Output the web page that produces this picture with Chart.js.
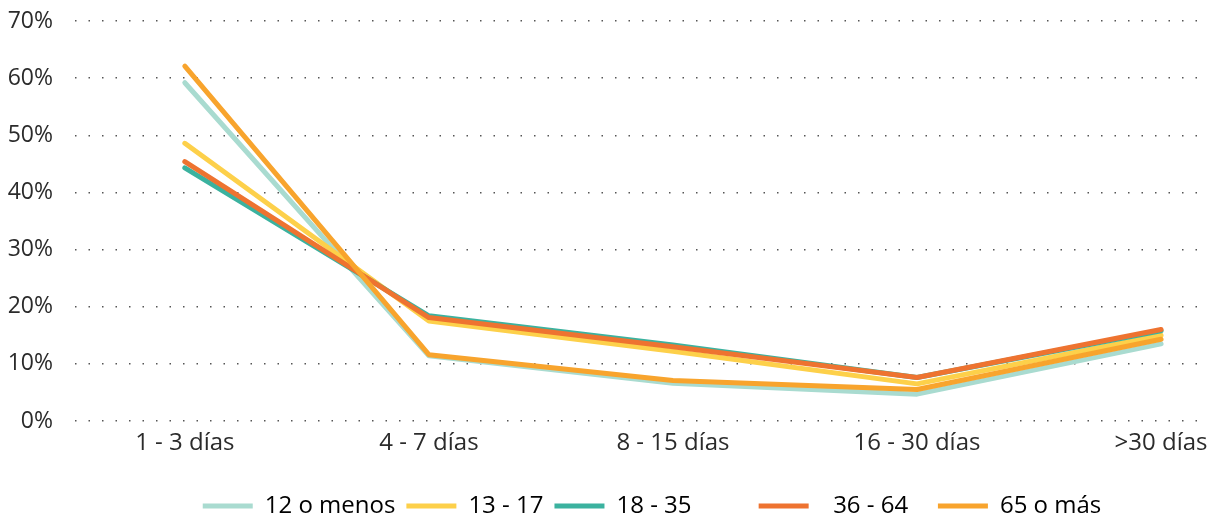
<!DOCTYPE html>
<html>
<head>
<meta charset="utf-8">
<script src="https://cdn.jsdelivr.net/npm/chart.js@4.4.1/dist/chart.umd.min.js"></script>
<style>
  html, body { margin: 0; padding: 0; background: #fff; }
  #wrap { width: 1213px; height: 518px; }
</style>
</head>
<body>
<div id="wrap"><canvas id="c" width="1213" height="518"></canvas></div>
<script>
// Duración por grupo de edad (porcentaje)
const categories = ['1 - 3 días', '4 - 7 días', '8 - 15 días', '16 - 30 días', '>30 días'];
const seriesNames = ['12 o menos', '13 - 17', '18 - 35         ', '  36 - 64   ', '65 o más'];
const seriesColors = ['#A9DBD0', '#FDD04A', '#3BB29F', '#EE7330', '#F8A42D'];
const menos12 = [59.2, 11.4, 6.6, 4.7, 13.5];
const de13a17 = [48.6, 17.5, 12.2, 6.5, 15.0];
const de18a35 = [44.3, 18.4, 13.3, 7.6, 15.8];
const de36a64 = [45.4, 18.1, 13.0, 7.6, 16.0];
const mas65 = [62.1, 11.6, 7.1, 5.5, 14.3];
const yTicks = [0, 10, 20, 30, 40, 50, 60, 70];

const seriesValues = [menos12, de13a17, de18a35, de36a64, mas65];
const FONT = '"Open Sans", Lato, sans-serif';

const datasets = seriesValues.map((vals, i) => ({
  label: seriesNames[i],
  data: vals.map((v, k) => ({ x: k, y: v })),
  borderColor: seriesColors[i],
  backgroundColor: seriesColors[i],
  borderWidth: 5,
  borderCapStyle: 'round',
  borderJoinStyle: 'round',
  pointRadius: 0,
  tension: 0,
  order: seriesValues.length - i
}));

// nudges the legend row a little to the right of the plot centre
const legendShift = {
  id: 'legendShift',
  afterLayout(chart) {
    const lg = chart.legend;
    if (lg) { lg.left += 12; lg.right += 12; }
  }
};

new Chart(document.getElementById('c'), {
  type: 'line',
  data: { datasets },
  plugins: [legendShift],
  options: {
    responsive: false,
    animation: false,
    devicePixelRatio: 1,
    layout: { padding: { top: 21, right: 8, left: 0, bottom: -10 } },
    plugins: {
      tooltip: { enabled: false },
      legend: {
        position: 'bottom',
        fullSize: false,
        labels: {
          font: { family: FONT, size: 24 },
          color: '#2b2b2b',
          boxWidth: 50,
          boxHeight: 5,
          padding: 11,
          useBorderRadius: true,
          borderRadius: 2.5,
          sort: (a, b) => a.datasetIndex - b.datasetIndex,
          generateLabels: (chart) => chart.data.datasets.map((ds, i) => ({
            text: ds.label,
            fillStyle: ds.borderColor,
            strokeStyle: ds.borderColor,
            lineWidth: 0,
            datasetIndex: i,
            hidden: false
          }))
        }
      }
    },
    scales: {
      x: {
        type: 'linear',
        min: -0.45,
        max: 4.18,
        afterBuildTicks: (scale) => { scale.ticks = categories.map((_, k) => ({ value: k })); },
        ticks: {
          callback: (v) => categories[v],
          font: { family: FONT, size: 24 },
          color: '#2b2b2b',
          padding: 0,
          maxRotation: 0,
          autoSkip: false
        },
        grid: { display: false },
        border: { display: false },
        afterFit: (scale) => { scale.height = 62; }
      },
      y: {
        min: 0,
        max: 70,
        afterBuildTicks: (scale) => { scale.ticks = yTicks.map(v => ({ value: v })); },
        ticks: {
          callback: (v) => v + '%',
          font: { family: FONT, size: 23 },
          color: '#2b2b2b',
          padding: 0
        },
        grid: {
          color: '#555',
          lineWidth: 1.5,
          drawTicks: true,
          tickLength: 22,
          tickColor: 'rgba(0,0,0,0)'
        },
        border: { display: false, dash: [1.5, 12] },
        afterFit: (scale) => { scale.width = 75; }
      }
    }
  }
});
</script>
</body>
</html>
